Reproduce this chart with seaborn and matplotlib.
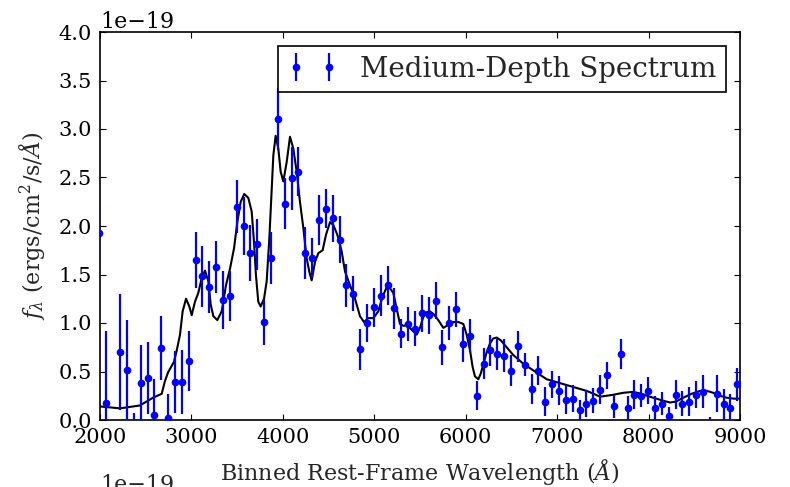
import numpy as np
import matplotlib
matplotlib.use("Agg")
import matplotlib.pyplot as plt
import seaborn as sns
import pandas as pd

# ---- data (flux in units of 1e-19 ergs/cm^2/s/A) ----
wavelength = [1985, 2070, 2145, 2220, 2295, 2370, 2445, 2520, 2595, 2670,
              2745, 2820, 2895, 2970, 3045, 3120, 3195, 3270, 3345, 3420,
              3495, 3570, 3645, 3720, 3795, 3870, 3945, 4020, 4095, 4170,
              4245, 4320, 4395, 4470, 4545, 4620, 4695, 4770, 4845, 4920,
              4995, 5070, 5145, 5220, 5295, 5370, 5445, 5520, 5595, 5670,
              5745, 5820, 5895, 5970, 6045, 6120, 6195, 6270, 6345, 6420,
              6495, 6570, 6645, 6720, 6795, 6870, 6945, 7020, 7095, 7170,
              7245, 7320, 7395, 7470, 7545, 7620, 7695, 7770, 7845, 7920,
              7995, 8070, 8145, 8220, 8295, 8370, 8445, 8520, 8595, 8670,
              8745, 8820, 8895, 8970]
flux = [1.93, 0.18, -0.45, 0.70, 0.52, -0.20, 0.38, 0.43, 0.05, 0.74,
        0.02, 0.39, 0.39, 0.61, 1.65, 1.48, 1.37, 1.58, 1.24, 1.28,
        2.20, 2.00, 1.72, 1.81, 1.01, 1.67, 3.10, 2.23, 2.49, 2.56,
        1.72, 1.67, 2.06, 2.18, 2.08, 1.86, 1.39, 1.30, 0.73, 1.00,
        1.16, 1.28, 1.39, 1.15, 0.89, 0.99, 0.94, 1.10, 1.08, 1.23,
        0.75, 1.00, 1.14, 0.78, 0.87, 0.25, 0.58, 0.72, 0.68, 0.66,
        0.51, 0.76, 0.57, 0.32, 0.51, 0.19, 0.37, 0.30, 0.21, 0.22,
        0.10, 0.17, 0.20, 0.31, 0.46, 0.14, 0.68, 0.12, 0.26, 0.25,
        0.30, 0.12, 0.17, 0.04, 0.26, 0.17, 0.19, 0.26, 0.29, -0.12,
        0.27, 0.16, 0.12, 0.37]
flux_err = [0.30, 0.74, 0.40, 0.60, 0.51, 0.27, 0.39, 0.37, 0.37, 0.33,
            0.25, 0.32, 0.33, 0.31, 0.29, 0.31, 0.27, 0.27, 0.30, 0.26,
            0.27, 0.30, 0.29, 0.26, 0.24, 0.27, 0.32, 0.26, 0.32, 0.25,
            0.27, 0.21, 0.26, 0.20, 0.24, 0.24, 0.22, 0.18, 0.21, 0.20,
            0.20, 0.21, 0.20, 0.21, 0.15, 0.18, 0.18, 0.19, 0.19, 0.19,
            0.18, 0.18, 0.18, 0.18, 0.17, 0.15, 0.16, 0.16, 0.16, 0.17,
            0.16, 0.16, 0.12, 0.15, 0.15, 0.15, 0.14, 0.15, 0.15, 0.14,
            0.11, 0.14, 0.13, 0.15, 0.14, 0.12, 0.15, 0.13, 0.15, 0.12,
            0.14, 0.13, 0.12, 0.09, 0.15, 0.13, 0.15, 0.14, 0.17, 0.15,
            0.19, 0.16, 0.15, 0.17]

model_wave = [2000, 2219, 2437, 2580, 2675, 2710, 2744, 2780, 2809, 2840,
              2875, 2904, 2941, 2977, 3003, 3039, 3075, 3112, 3148, 3185,
              3211, 3240, 3283, 3331, 3378, 3422, 3466, 3502, 3539, 3578,
              3622, 3659, 3684, 3706, 3731, 3757, 3794, 3823, 3852, 3877,
              3896, 3921, 3950, 3976, 4005, 4042, 4078, 4114, 4151, 4187,
              4224, 4260, 4289, 4315, 4352, 4388, 4435, 4472, 4516, 4552,
              4596, 4643, 4680, 4734, 4789, 4844, 4887, 4935, 4989, 5044,
              5090, 5136, 5170, 5208, 5245, 5281, 5320, 5354, 5410, 5464,
              5500, 5535, 5570, 5609, 5650, 5700, 5755, 5790, 5828, 5870,
              5919, 5974, 6010, 6047, 6075, 6101, 6138, 6165, 6192, 6230,
              6266, 6300, 6339, 6385, 6430, 6520, 6630, 6758, 6886, 7031,
              7177, 7323, 7400, 7469, 7540, 7614, 7720, 7832, 7920, 8015,
              8120, 8234, 8300, 8380, 8470, 8562, 8640, 8708, 8780, 8854,
              8930, 9000]
model_flux = [0.14, 0.12, 0.15, 0.23, 0.27, 0.40, 0.49, 0.55, 0.60, 0.72,
              0.88, 1.12, 1.25, 1.17, 1.08, 1.22, 1.31, 1.46, 1.54, 1.43,
              1.19, 1.07, 1.03, 1.12, 1.39, 1.56, 1.77, 2.04, 2.25, 2.33,
              2.29, 2.15, 1.84, 1.49, 1.22, 1.17, 1.25, 1.43, 1.87, 2.35,
              2.73, 2.93, 2.80, 2.56, 2.46, 2.66, 2.92, 2.80, 2.56, 2.25,
              1.98, 1.67, 1.53, 1.44, 1.63, 1.72, 1.75, 1.91, 2.04, 2.01,
              1.91, 1.74, 1.53, 1.39, 1.25, 1.07, 1.01, 1.05, 1.05, 1.12,
              1.27, 1.37, 1.36, 1.31, 1.15, 0.99, 0.97, 0.98, 0.93, 0.88,
              0.95, 1.06, 1.11, 1.12, 1.09, 1.03, 0.95, 0.97, 0.99, 1.01,
              1.01, 0.99, 0.88, 0.72, 0.55, 0.45, 0.42, 0.48, 0.57, 0.70,
              0.79, 0.84, 0.85, 0.82, 0.77, 0.67, 0.58, 0.50, 0.42, 0.38,
              0.34, 0.30, 0.27, 0.24, 0.25, 0.26, 0.28, 0.29, 0.27, 0.24,
              0.21, 0.18, 0.19, 0.23, 0.27, 0.30, 0.30, 0.28, 0.25, 0.23,
              0.22, 0.22]

x_ticks = [2000, 3000, 4000, 5000, 6000, 7000, 8000, 9000]
y_ticks = [0.0, 0.5, 1.0, 1.5, 2.0, 2.5, 3.0, 3.5, 4.0]
scale = 1e-19

sns.set_style("ticks")
plt.rcParams.update({
    "font.family": ["DejaVu Serif"],
    "mathtext.fontset": "dejavuserif",
    "xtick.direction": "in", "ytick.direction": "in",
    "xtick.top": True, "ytick.right": True,
    "xtick.major.size": 4.5, "ytick.major.size": 4.5,
    "xtick.major.width": 0.8, "ytick.major.width": 0.8,
    "xtick.major.pad": 6, "ytick.major.pad": 6,
    "xtick.color": "black", "ytick.color": "black",
    "axes.edgecolor": "black", "axes.linewidth": 1.2,
    "xtick.labelsize": 15, "ytick.labelsize": 15,
    "axes.labelsize": 16,
})

fig = plt.figure(figsize=(7.9, 4.87), dpi=100)
ax = fig.add_axes([100 / 790, 1 - 420 / 487, 640 / 790, 388 / 487])

df_model = pd.DataFrame({"wave": model_wave,
                         "flux": np.array(model_flux) * scale})
sns.lineplot(data=df_model, x="wave", y="flux", color="black", lw=1.5,
             ax=ax, legend=False, zorder=2)

ax.errorbar(np.array(wavelength), np.array(flux) * scale,
            yerr=np.array(flux_err) * scale, fmt="o", color="blue",
            ms=4.5, elinewidth=1.6, capsize=0, zorder=3,
            label="Medium-Depth Spectrum")

ax.set_xlim(2000, 9000)
ax.set_ylim(0, 4.0e-19)
ax.set_xticks(x_ticks)
ax.set_yticks([v * scale for v in y_ticks])
ax.set_xlabel(r"Binned Rest-Frame Wavelength ($\AA$)", labelpad=7)
ax.set_ylabel(r"$f_\lambda$ (ergs/cm$^2$/s/$\AA$)", labelpad=8)
ax.yaxis.get_offset_text().set_fontsize(16)

leg = ax.legend(loc="upper right", numpoints=2, fontsize=20, frameon=True,
                fancybox=False, framealpha=1, edgecolor="black",
                borderaxespad=0.5, handlelength=1.8, handletextpad=0.8,
                borderpad=0.35)
leg.get_frame().set_linewidth(1.2)
leg.set_zorder(5)

# offset label of the (cropped) panel below
fig.text(100 / 790, 1 - 474 / 487, "1e\u221219", fontsize=16, va="top",
         ha="left")

fig.savefig("out.png", dpi=100, facecolor="white")
